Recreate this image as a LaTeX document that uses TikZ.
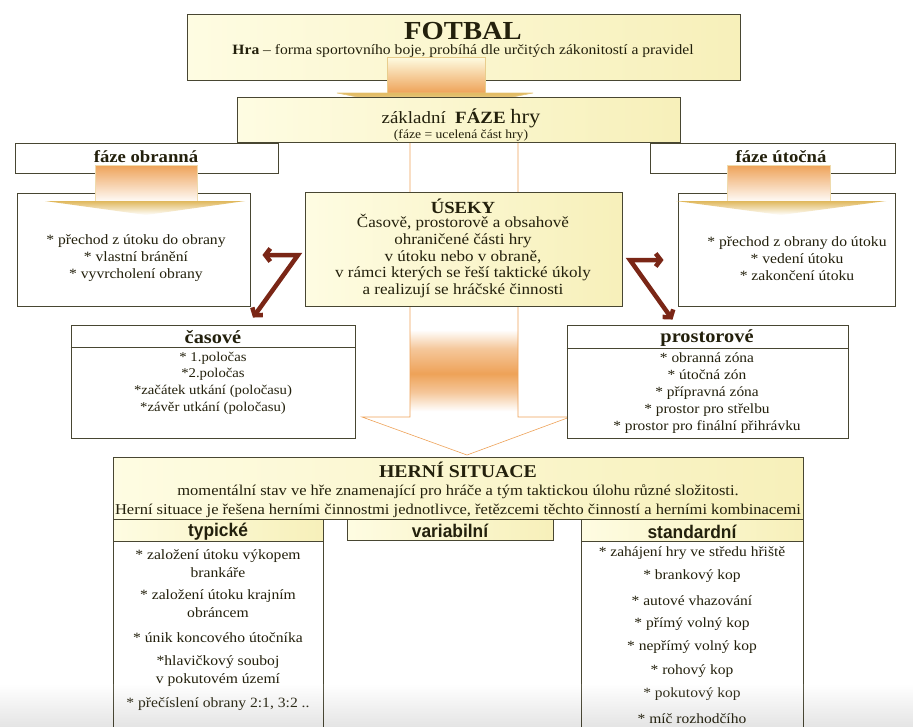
\documentclass[tikz,border=0pt]{standalone}
\usepackage{fontspec}
\setmainfont[FakeStretch=1.1]{Liberation Serif}
\newfontfamily\headsans[FakeStretch=0.95]{Liberation Sans}
\usetikzlibrary{arrows.meta, calc}
\definecolor{ink}{RGB}{35,32,12}
\definecolor{edge}{RGB}{72,70,50}
\definecolor{cream}{RGB}{254,252,226}
\definecolor{creamdk}{RGB}{247,240,186}
\definecolor{orng}{RGB}{238,162,88}
\definecolor{gold}{RGB}{224,184,92}
\definecolor{brwn}{RGB}{122,38,22}
\pgfdeclareverticalshading{midband}{100bp}{color(0bp)=(white); color(32bp)=(white);
  color(35bp)=(orng!60); color(38bp)=(orng); color(42bp)=(orng!60); color(45bp)=(white);
  color(100bp)=(white)}

\begin{document}
\begin{tikzpicture}[x=1pt, y=-1pt,
    box/.style={draw=edge, line width=0.9pt, fill=white, inner sep=0pt},
    cbox/.style={box, left color=cream, right color=creamdk},
    txt/.style={text=ink, inner sep=0pt, align=center, font=\fontsize{14.2}{17}\selectfont},
    ttl/.style={txt, font=\fontsize{17}{18}\selectfont\bfseries},
    subhead/.style={txt, font=\fontsize{18.3}{19}\selectfont\headsans\bfseries},
    zig/.style={draw=brwn, line width=4.5pt, {Straight Barb[length=5pt,width=13pt]}-{Straight Barb[length=5pt,width=13pt]}}]
    \useasboundingbox (0,0) rectangle (913,726);
    \clip (0,0) rectangle (913,726);

    % big arrow down the middle
    \shade[shading=midband, draw=orng, line width=0.6pt]
        (410,142) -- (410,417) -- (362,417) -- (467,455) -- (570,417) -- (518,417) -- (518,142) -- cycle;

    % FOTBAL
    \node[cbox, minimum width=553pt, minimum height=66pt] (fotbal) at (463.5,47) {};
    \node[txt, font=\fontsize{26}{26}\selectfont\bfseries] (fotbaltitle) at (463,31) {FOTBAL};
    \node[txt, font=\fontsize{14.2}{15}\selectfont] (fotbaltxt) at (463,51)
        {\textbf{Hra} -- forma sportovního boje, probíhá dle určitých zákonitostí a pravidel};

    % arrow to the phases
    \shade[top color=cream, bottom color=orng, draw=gold!70, line width=0.5pt] (387,57) rectangle (485,93);
    \shade[top color=gold, bottom color=white, draw=gold!80, line width=0.6pt] (337,93) -- (533,93) -- (435,112) -- cycle;

    % phases
    \node[cbox, minimum width=443pt, minimum height=45pt] (faze) at (458.5,119.5) {};
    \node[txt, font=\fontsize{17.2}{18}\selectfont] (fazetitle) at (461,118)
        {základní\ \ \textbf{FÁZE} {\fontsize{20.4}{20}\selectfont hry}};
    \node[txt, font=\fontsize{12.4}{13}\selectfont] (fazetxt) at (461,135) {(fáze = ucelená část hry)};

    \node[box, minimum width=263pt, minimum height=30pt] (obranna) at (146.5,158) {};
    \node[ttl] (obrannatitle) at (146,157) {fáze obranná};
    \node[box, minimum width=245pt, minimum height=30pt] (utocna) at (772.5,158) {};
    \node[ttl] (utocnatitle) at (781,157) {fáze útočná};

    \node[box, minimum width=233pt, minimum height=113pt] (obrlist) at (133.5,249.5) {};
    \node[box, minimum width=217pt, minimum height=113pt] (utolist) at (786.5,249.5) {};

    % small arrows into the lists
    \shade[top color=orng, bottom color=white, draw=gold!50, line width=0.4pt] (95,165) rectangle (197,203);
    \shade[top color=gold, bottom color=white] (45,201) -- (245,201) -- (146,215) -- cycle;
    \shade[top color=orng, bottom color=white, draw=gold!50, line width=0.4pt] (727,165) rectangle (830,203);
    \shade[top color=gold, bottom color=white] (676,201) -- (886,201) -- (781,215) -- cycle;

    \node[txt] (obrtxt) at (136,258)
        {* přechod z útoku do obrany\\* vlastní bránění\\* vyvrcholení obrany};
    \node[txt] (utotxt) at (797,259)
        {* přechod z obrany do útoku\\* vedení útoku\\* zakončení útoku};

    % USEKY
    \node[cbox, minimum width=317pt, minimum height=114pt] (useky) at (463.5,249) {};
    \node[txt, font=\fontsize{17}{18}\selectfont\bfseries] (usekytitle) at (463,206) {ÚSEKY};
    \node[txt, font=\fontsize{15.5}{16.8}\selectfont] (usekytxt) at (463,256)
        {Časově, prostorově a obsahově\\ohraničené části hry\\v útoku nebo v obraně,\\
         v rámci kterých se řeší taktické úkoly\\a realizují se hráčské činnosti};

    % casove / prostorove
    \node[box, minimum width=284pt, minimum height=113pt] (casove) at (213,381.5) {};
    \draw[edge, line width=0.9pt] (casove.west |- 0,347) -- (casove.east |- 0,347);
    \node[txt, font=\fontsize{18.5}{19}\selectfont\bfseries] (casovetitle) at (213,337) {časové};
    \node[txt, font=\fontsize{13.4}{16.7}\selectfont] (casovetxt) at (213,383)
        {* 1.poločas\\*2.poločas\\*začátek utkání (poločasu)\\*závěr utkání (poločasu)};

    \node[box, minimum width=281pt, minimum height=113pt] (prostor) at (707.5,381.5) {};
    \draw[edge, line width=0.9pt] (prostor.west |- 0,348) -- (prostor.east |- 0,348);
    \node[txt, font=\fontsize{18.5}{19}\selectfont\bfseries] (prostortitle) at (707,338) {prostorové};
    \node[txt, font=\fontsize{14}{17}\selectfont] (prostortxt) at (707,393)
        {* obranná zóna\\* útočná zón\\* přípravná zóna\\* prostor pro střelbu\\* prostor pro finální přihrávku};

    % brown links
    \coordinate (zl) at (298,255);
    \coordinate (zr) at (630,260);
    \draw[zig] ($(obrlist.east)+(12,5.5)$) -- (zl) -- ($(casove.north)+(40,-7)$);
    \draw[zig] ($(utolist.west)+(-14,10.5)$) -- (zr) -- ($(prostor.north)+(-35,-5)$);

    % HERNI SITUACE
    \node[cbox, minimum width=690pt, minimum height=62pt] (herni) at (458,488) {};
    \node[txt, font=\fontsize{18}{18}\selectfont\bfseries] (hernititle) at (458,470) {HERNÍ SITUACE};
    \node[txt, font=\fontsize{15}{18.5}\selectfont] (hernitxt) at (458,501)
        {momentální stav ve hře znamenající pro hráče a tým taktickou úlohu různé složitosti.\\
         Herní situace je řešena herními činnostmi jednotlivce, řetězcemi těchto činností a herními kombinacemi};

    \node[cbox, minimum width=210pt, minimum height=22pt] (typhead) at (218,530) {};
    \node[subhead] (typtitle) at (218,531.5) {typické};
    \node[cbox, minimum width=206pt, minimum height=21pt] (varhead) at (450,529.5) {};
    \node[subhead] (vartitle) at (450,531) {variabilní};
    \node[cbox, minimum width=222pt, minimum height=22pt] (stdhead) at (692,530) {};
    \node[subhead] (stdtitle) at (692,531.5) {standardní};

    \node[box, minimum width=210pt, minimum height=219pt] (typbody) at (218,650.5) {};
    \node[box, minimum width=222pt, minimum height=219pt] (stdbody) at (692,650.5) {};

    % typicke
    \node[txt, font=\fontsize{14.2}{18}\selectfont] (typ1) at (218,564) {* založení útoku výkopem\\brankáře};
    \node[txt, font=\fontsize{14.2}{18}\selectfont] (typ2) at (218,604) {* založení útoku krajním\\obráncem};
    \node[txt, font=\fontsize{14.2}{18}\selectfont] (typ3) at (218,638) {* únik koncového útočníka};
    \node[txt, font=\fontsize{14.2}{18}\selectfont] (typ4) at (218,671) {*hlavičkový souboj\\v pokutovém území};
    \node[txt, font=\fontsize{14.2}{18}\selectfont] (typ5) at (218,704) {* přečíslení obrany 2:1, 3:2 ..};

    % standardni
    \foreach \t [count=\i] in {* zahájení hry ve středu hřiště, * brankový kop, * autové vhazování,
        * přímý volný kop, * nepřímý volný kop, * rohový kop, * pokutový kop, * míč rozhodčího}
        \node[txt, font=\fontsize{14.1}{15}\selectfont] (std\i) at (692,{553+23.6*(\i-1)}) {\t};

    % faint grey strip at the bottom
    \shade[top color=white, bottom color=black, opacity=0.1] (0,684) rectangle (913,726);
\end{tikzpicture}
\end{document}
